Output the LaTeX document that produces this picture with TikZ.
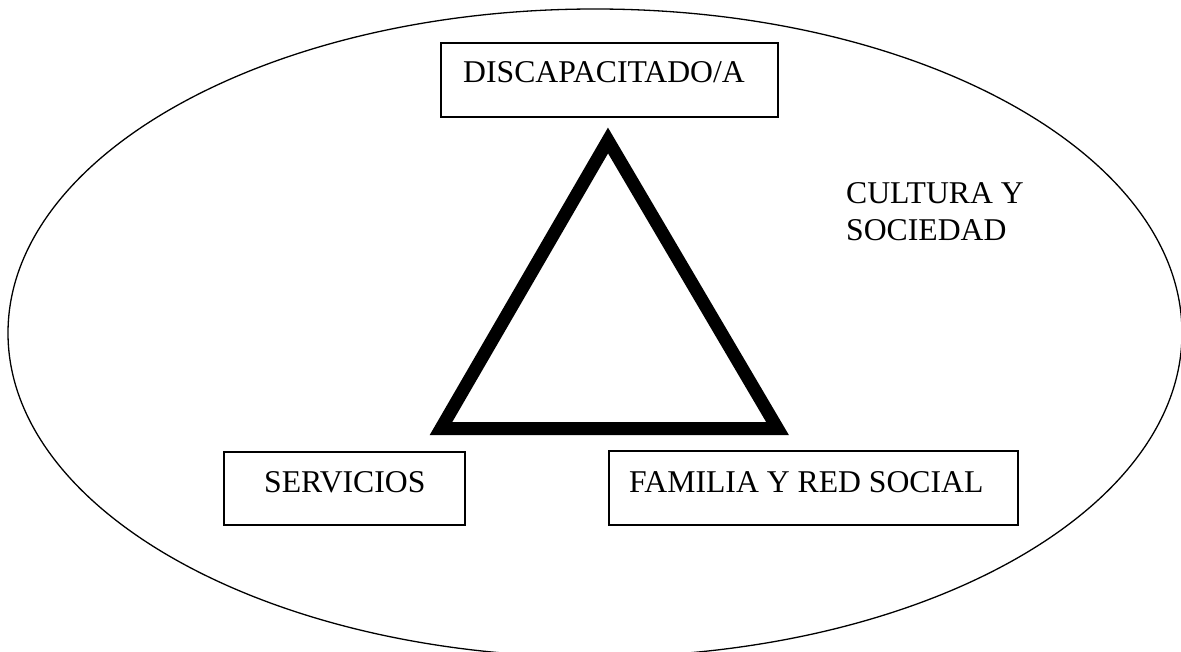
\documentclass[tikz,border=0pt]{standalone}
\usepackage{fontspec}
\setmainfont{Liberation Serif}
\begin{document}
\begin{tikzpicture}[x=1pt,y=-1pt,
  boxstyle/.style={draw=black,line width=1.8pt,rectangle,inner sep=0pt},
  lbl/.style={inner sep=0pt,anchor=base west,font=\fontsize{31.7}{37}\selectfont}]
\useasboundingbox (0,0) rectangle (1181,652);
% ellipse
\draw[line width=1.3pt] (595,333) ellipse [x radius=587, y radius=324];
% triangle
\draw[line width=13pt,miter limit=10,line join=miter] (608,140.5) -- (441,428.5) -- (777.5,428.5) -- cycle;
% boxes
\node[boxstyle,minimum width=337pt,minimum height=74pt] (top) at (609.5,80) {};
\node[boxstyle,minimum width=241pt,minimum height=73pt] (serv) at (344.5,488.5) {};
\node[boxstyle,minimum width=409pt,minimum height=74pt] (fam) at (813.5,488) {};
% texts
\node[lbl] (ttop) at (463,83) {DISCAPACITADO/A};
\node[lbl] (tserv) at (264,492) {SERVICIOS};
\node[lbl] (tfam) at (629,492) {FAMILIA Y RED SOCIAL};
\node[lbl] (tcul1) at (846,204) {CULTURA Y};
\node[lbl] (tcul2) at (846,241) {SOCIEDAD};
\end{tikzpicture}
\end{document}
